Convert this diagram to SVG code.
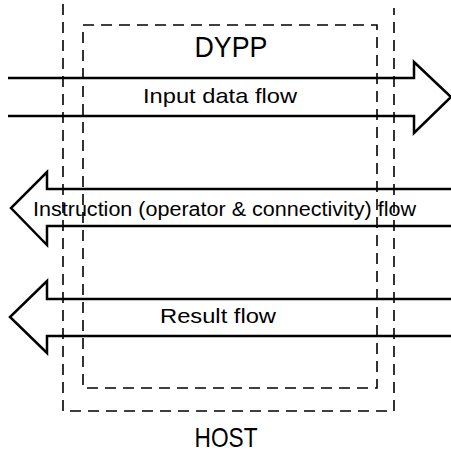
<svg xmlns="http://www.w3.org/2000/svg" width="451" height="453" viewBox="0 0 451 453">
<style>
.dash{fill:none;stroke:#000;stroke-width:1.6;stroke-dasharray:11 7}
.arrow{fill:none;stroke:#000;stroke-width:2.5;stroke-linejoin:miter}
text{font-family:"Liberation Sans","DejaVu Sans",sans-serif;fill:#000}
</style>
<rect width="451" height="453" fill="#fff"/>
<g id="host">
<path class="dash" d="M63,4 V411 H394 V8"/>
<text x="226" y="447" font-size="28" text-anchor="middle" textLength="63" lengthAdjust="spacingAndGlyphs">HOST</text>
</g>
<g id="dypp">
<rect class="dash" x="83" y="25" width="294" height="363"/>
<text x="231" y="57" font-size="29" text-anchor="middle" textLength="73" lengthAdjust="spacingAndGlyphs">DYPP</text>
</g>
<g id="connectors">
<g id="input-flow">
<path class="arrow" d="M8,78 H414 V62 L451,97 L414,133 V116 H8"/>
<text x="143" y="103" font-size="21" textLength="154" lengthAdjust="spacingAndGlyphs">Input data flow</text>
</g>
<g id="instruction-flow">
<path class="arrow" d="M451,189 H47 V172 L11,208 L47,245 V226 H451"/>
<text x="33" y="216" font-size="20" textLength="383" lengthAdjust="spacingAndGlyphs">Instruction (operator &amp; connectivity) flow</text>
</g>
<g id="result-flow">
<path class="arrow" d="M451,299 H47 V281 L10,317 L47,353 V336 H451"/>
<text x="160" y="323" font-size="21" textLength="116" lengthAdjust="spacingAndGlyphs">Result flow</text>
</g>
</g>
</svg>
